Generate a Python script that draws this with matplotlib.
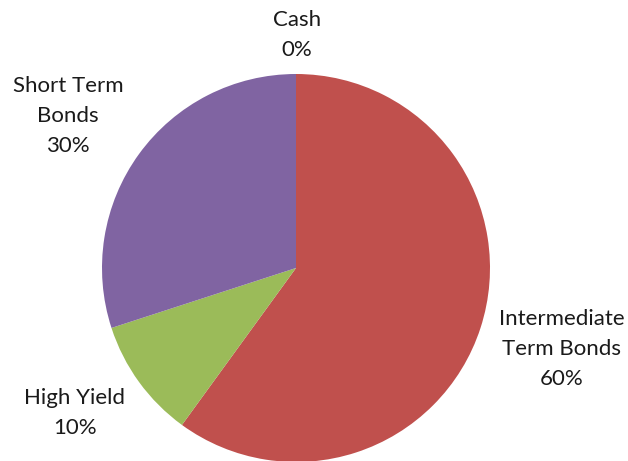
import matplotlib
matplotlib.use("Agg")
import matplotlib.pyplot as plt

# Portfolio allocation
categories = ["Cash", "Intermediate\nTerm Bonds", "High Yield", "Short Term\nBonds"]
shares = [0, 60, 10, 30]
colors = ["#4F81BD", "#C0504D", "#9BBB59", "#8064A2"]

W, H = 628, 461
fig = plt.figure(figsize=(W / 100, H / 100), dpi=100)
ax = fig.add_axes([0, 0, 1, 1])

cx, cy, r = 296, H - 268, 194
ax.pie(shares, colors=colors, startangle=90, counterclock=False,
       center=(cx, cy), radius=r, frame=True,
       wedgeprops=dict(linewidth=0))
ax.set_xlim(0, W)
ax.set_ylim(0, H)
ax.set_aspect("equal")
ax.axis("off")

# label block centres (x, y from top)
label_pos = [(297, 35), (562, 349), (75, 413), (68, 116)]
for cat, val, (lx, ly) in zip(categories, shares, label_pos):
    ax.text(lx, H - ly, f"{cat}\n{val}%", ha="center", va="center",
            fontsize=16, family="Lato", color="#1a1a1a", linespacing=1.62)

fig.savefig("out.png", dpi=100)
